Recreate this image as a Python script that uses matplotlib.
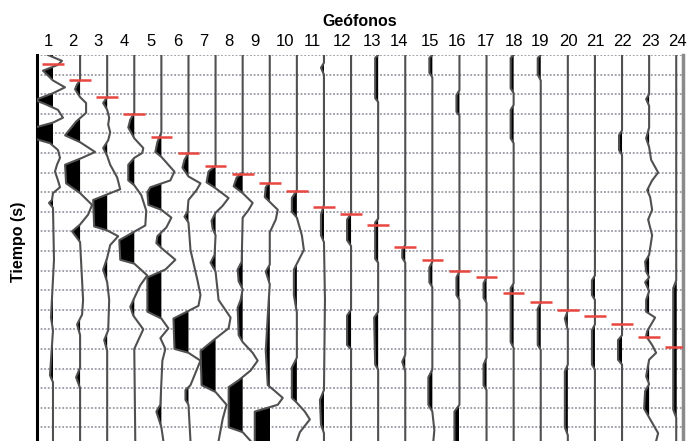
import matplotlib
matplotlib.use('Agg')
import matplotlib.pyplot as plt
import numpy as np

# ---------------- data ----------------
geophones = [str(i) for i in range(1, 25)]
# first-arrival picks (time units, grid every 20)
pick_times = [9, 26, 43, 60, 84, 100, 113, 121, 131, 139, 155, 162,
              174, 196, 209, 220, 227, 243, 252, 260, 266, 275, 288, 298]

tr01_t = [0,6,10,16,23,26,33,39,46,50,56,64,69,74,85,90,97,105,112,119,128,135,141,148,151,156,209,268,281,327,334,394]
tr01_a = [-5,9,5,-10,-3,0,12,0,-18,-8,5,10,0,-18,-20,-3,5,7,4,2,5,7,0,-1,-4,0,1,-2,0,-3,0,0]
tr02_t = [0,26,30,35,43,49,59,68,82,89,99,105,112,131,141,153,163,173,180,191,250,265,275,286,319,329,340,394]
tr02_a = [0,0,-3,-5,0,6,6,-4,-15,0,15,2,-15,-14,0,12,8,0,-8,0,3,2,-3,0,0,-4,0,0]
tr03_t = [0,43,49,56,64,71,79,87,95,103,112,125,137,148,175,179,185,194,207,219,232,250,281,291,302,394]
tr03_a = [0,0,-4,0,2,1,3,1,-4,0,3,10,13,-14,-13,0,11,3,0,-4,0,2,1,-3,0,0]
tr04_t = [0,59,66,74,85,95,100,105,112,128,133,143,159,174,189,209,213,225,235,248,257,266,280,300,394]
tr04_a = [0,0,-4,-6,0,9,8,0,-6,-6,0,7,12,11,-15,-14,0,13,6,0,-4,-1,9,0,1]
tr05_t = [0,79,89,99,104,119,128,135,140,153,158,166,176,185,192,197,209,219,227,262,269,279,289,300,312,357,364,380,394]
tr05_a = [0,0,-4,-6,0,13,9,-11,-14,-13,0,10,5,-4,-5,0,14,4,-14,-14,0,7,-1,4,1,-1,-5,0,2]
tr06_t = [0,100,107,115,124,131,138,148,160,165,171,199,230,245,256,269,300,304,312,322,337,342,352,357,394]
tr06_a = [0,0,-4,-6,0,12,8,0,-1,-4,0,2,9,12,10,-15,-14,0,12,8,2,-3,-3,0,2]
tr07_t = [0,113,119,130,136,146,154,161,169,177,184,204,212,221,250,268,279,291,302,337,344,357,372,394]
tr07_a = [0,0,-7,-9,0,13,7,0,-4,-3,0,-1,-5,0,3,15,13,-2,-15,-14,0,11,7,3]
tr08_t = [0,120,125,134,141,151,158,166,211,219,231,239,250,258,286,293,304,312,322,332,339,380,385,394]
tr08_a = [0,0,-6,-9,0,10,6,0,-1,-5,-4,0,-2,-5,-4,0,10,15,8,-4,-14,-14,0,8]
tr09_t = [0,130,135,145,150,158,168,181,214,221,234,266,302,337,342,350,357,364,394]
tr09_a = [0,0,-4,-5,0,8,6,0,0,-4,0,-2,-4,-2,4,13,8,-15,-15]
tr10_t = [0,138,146,160,166,184,199,211,219,245,263,309,319,350,355,364,372,385,394]
tr10_a = [0,0,-5,-5,0,5,7,1,-3,-3,0,0,-5,-5,0,8,13,3,0]
tr11_t = [0,8,13,20,153,163,184,191,250,342,352,377,386,394]
tr11_a = [0,0,-3,0,0,-3,-3,0,1,0,-4,-3,0,0]
tr12_t = [0,162,168,189,195,260,266,296,300,394]
tr12_a = [0,0,-4,-4,0,0,-4,-4,0,0]
tr13_t = [0,3,44,48,167,171,208,212,262,268,316,321,394]
tr13_a = [0,-3,-3,0,0,-3,-3,0,0,-4,-3,0,0]
tr14_t = [0,194,199,207,212,306,313,323,394]
tr14_a = [0,0,-3,-3,0,0,-3,0,0]
tr15_t = [0,3,18,23,211,217,232,237,321,329,357,364,383,394]
tr15_a = [0,-3,-3,0,0,-3,-3,0,0,-4,-4,0,2,1]
tr16_t = [0,36,41,58,62,221,227,245,250,357,364,394]
tr16_a = [0,0,-3,-3,0,0,-3,-3,0,0,-5,-5]
tr17_t = [0,227,233,248,253,309,316,337,342,394]
tr17_a = [0,0,-3,-3,0,0,-3,-3,0,0]
tr18_t = [0,3,34,39,51,56,85,90,233,238,293,299,394]
tr18_a = [0,-3,-3,0,0,-3,-3,0,0,-3,-3,0,0]
tr19_t = [0,3,20,26,253,259,296,301,394]
tr19_a = [0,-3,-3,0,0,-3,-3,0,0]
tr20_t = [0,261,269,281,316,323,380,388,394]
tr20_a = [0,0,-3,0,0,-3,-3,0,0]
tr21_t = [0,225,230,245,250,275,281,316,321,394]
tr21_a = [0,0,-3,-3,0,0,-3,-3,0,0]
tr22_t = [0,77,82,97,102,286,291,311,316,394]
tr22_a = [0,0,-3,-3,0,0,-4,-4,0,0]
tr23_t = [0,40,45,52,74,85,94,107,120,128,138,145,158,168,184,204,211,221,227,232,241,250,262,268,275,282,287,296,304,311,328,336,343,361,370,386,394]
tr23_a = [0,0,-3,0,0,-3,0,2,9,3,-2,1,3,-1,3,0,-4,-3,0,-4,0,-3,-3,6,2,-2,-3,3,7,0,-3,0,-4,-5,0,9,7]
tr24_t = [0,230,238,362,370,394]
tr24_a = [0,0,-3,-3,0,0]

traces = [(tr01_t, tr01_a), (tr02_t, tr02_a), (tr03_t, tr03_a), (tr04_t, tr04_a),
          (tr05_t, tr05_a), (tr06_t, tr06_a), (tr07_t, tr07_a), (tr08_t, tr08_a),
          (tr09_t, tr09_a), (tr10_t, tr10_a), (tr11_t, tr11_a), (tr12_t, tr12_a),
          (tr13_t, tr13_a), (tr14_t, tr14_a), (tr15_t, tr15_a), (tr16_t, tr16_a),
          (tr17_t, tr17_a), (tr18_t, tr18_a), (tr19_t, tr19_a), (tr20_t, tr20_a),
          (tr21_t, tr21_a), (tr22_t, tr22_a), (tr23_t, tr23_a), (tr24_t, tr24_a)]

# ---------------- layout ----------------
W, H = 688, 441
gain = 1 / 27.1
label_pos = [0.815, 1.738, 2.661, 3.620, 4.616, 5.613, 6.572, 7.494, 8.454, 9.561,
             10.557, 11.664, 12.771, 13.768, 14.911, 15.908, 16.978, 18.011, 18.970,
             20.004, 21.037, 22.033, 23.030, 24.063]

plt.rcParams['font.family'] = ['Liberation Sans', 'DejaVu Sans']
fig = plt.figure(figsize=(W / 100, H / 100), dpi=100)
ax = fig.add_axes([37 / W, 0, (683 - 37) / W, 386 / H])

for k in range(0, 400, 20):
    ax.axhline(k, color='#9a9aa6', lw=1.3, ls=(0, (1, 1)), zorder=1)

for i, (t, a) in enumerate(traces):
    base = i + 1
    t = np.asarray(t, float)
    x = base + np.asarray(a, float) * gain
    ax.fill_betweenx(t, base, x, where=x < base, interpolate=True,
                     color='black', lw=0, zorder=2)
    ax.plot(x, t, color='#505050', lw=1.5, zorder=3, solid_joinstyle='round')

for i, pt in enumerate(pick_times):
    base = i + 1
    ax.plot([base - 0.4, base + 0.4], [pt, pt], color='#e8473f', lw=1.8,
            zorder=4, solid_capstyle='butt')

ax.set_xlim(0.41, 24.25)
ax.set_ylim(394, 0)
for s in ['top', 'bottom']:
    ax.spines[s].set_visible(False)
ax.spines['left'].set_color('black')
ax.spines['left'].set_linewidth(2.2)
ax.spines['right'].set_color('#8a8a8a')
ax.spines['right'].set_linewidth(2.5)

ax.xaxis.tick_top()
ax.set_xticks(label_pos)
ax.set_xticklabels(geophones, fontsize=12)
ax.tick_params(axis='x', length=0, pad=4)
ax.set_yticks([])

fig.text(360 / W, 1 - 21 / H, 'Geófonos', ha='center', va='center',
         fontsize=11.5, fontweight='bold')
fig.text(19 / W, 1 - 242 / H, 'Tiempo (s)', ha='center', va='center',
         rotation=90, fontsize=11.5, fontweight='bold')

fig.savefig('out.png', dpi=100)
